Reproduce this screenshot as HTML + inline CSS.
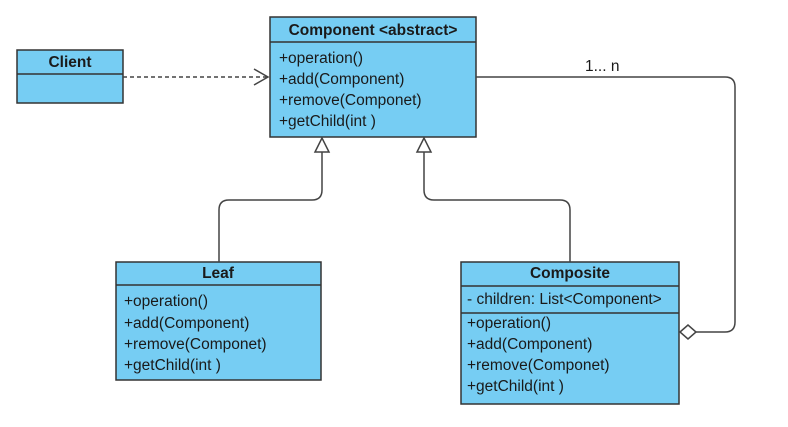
<!DOCTYPE html>
<html><head><meta charset="utf-8"><style>
body{margin:0;background:#fff;width:788px;height:422px;overflow:hidden}
svg text{font-family:"Liberation Sans",Arial,sans-serif;font-size:15.5px;fill:#1a1a1a}
.b{font-weight:bold}
</style></head><body>
<svg width="788" height="422" viewBox="0 0 788 422">
<g stroke="#333" stroke-width="1.5" fill="#76cdf3">
<rect x="17" y="50" width="106" height="53"/><line x1="17" y1="74" x2="123" y2="74"/>
<rect x="270" y="17" width="206" height="120"/><line x1="270" y1="42" x2="476" y2="42"/>
<rect x="116" y="262" width="205" height="118"/><line x1="116" y1="285" x2="321" y2="285"/>
<rect x="461" y="262" width="218" height="142"/><line x1="461" y1="286" x2="679" y2="286"/><line x1="461" y1="313" x2="679" y2="313"/>
</g>
<g fill="none" stroke="#444" stroke-width="1.5">
<line x1="123" y1="77" x2="267" y2="77" stroke-dasharray="4,3"/>
<polyline points="254,69 268,77 254,85"/>
<path d="M322,152 V190 Q322,200 312,200 H229 Q219,200 219,210 V262"/>
<path d="M424,152 V190 Q424,200 434,200 H560 Q570,200 570,210 V262"/>
<path d="M476,77 H725 Q735,77 735,87 V322 Q735,332 725,332 H696"/>
</g>
<g fill="#fff" stroke="#444" stroke-width="1.5">
<polygon points="322,138 315,152 329,152"/>
<polygon points="424,138 417,152 431,152"/>
<polygon points="680,332 688,325 696,332 688,339"/>
</g>
<text x="70" y="67" text-anchor="middle" class="b">Client</text>
<text x="373" y="35" text-anchor="middle" class="b">Component &lt;abstract&gt;</text>
<text x="279" y="63">+operation()</text>
<text x="279" y="84">+add(Component)</text>
<text x="279" y="105">+remove(Componet)</text>
<text x="279" y="126">+getChild(int )</text>
<text x="218" y="278" text-anchor="middle" class="b">Leaf</text>
<text x="124" y="306">+operation()</text>
<text x="124" y="328">+add(Component)</text>
<text x="124" y="349">+remove(Componet)</text>
<text x="124" y="370">+getChild(int )</text>
<text x="570" y="278" text-anchor="middle" class="b">Composite</text>
<text x="467" y="304">- children: List&lt;Component&gt;</text>
<text x="467" y="328">+operation()</text>
<text x="467" y="349">+add(Component)</text>
<text x="467" y="370">+remove(Componet)</text>
<text x="467" y="391">+getChild(int )</text>
<text x="585" y="71">1... n</text>
</svg>
</body></html>
